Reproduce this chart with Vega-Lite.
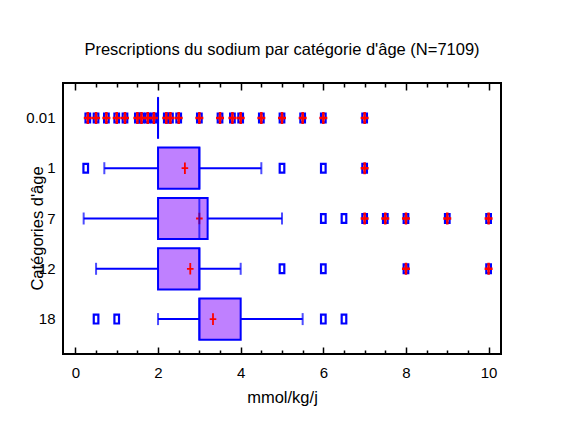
{
  "$schema": "https://vega.github.io/schema/vega-lite/v6.json",
  "width": 438,
  "height": 271,
  "autosize": {"type": "none"},
  "padding": {"left": 63, "top": 83, "right": 82, "bottom": 83},
  "background": "white",
  "title": {
    "text": "Prescriptions du sodium par catégorie d'âge (N=7109)",
    "font": "Liberation Sans",
    "fontSize": 16.5,
    "fontWeight": "normal",
    "color": "#000",
    "anchor": "middle",
    "baseline": "alphabetic",
    "offset": 11
  },
  "config": {
    "view": {"stroke": "#000", "strokeWidth": 2},
    "axis": {
      "labelFont": "Liberation Sans",
      "titleFont": "Liberation Sans",
      "labelFontSize": 15,
      "titleFontSize": 16.5,
      "titleFontWeight": "normal",
      "labelColor": "#000",
      "titleColor": "#000",
      "tickColor": "#000",
      "tickWidth": 1.5,
      "grid": false,
      "domain": false
    }
  },
  "datasets": {
    "summary": [
      {"age": "0.01", "low": 2, "q1": 2, "median": 2, "q3": 2, "high": 2, "mean": null},
      {"age": "1", "low": 0.7, "q1": 2, "median": 3, "q3": 3, "high": 4.5, "mean": 2.65},
      {"age": "7", "low": 0.2, "q1": 2, "median": 3, "q3": 3.2, "high": 5, "mean": 3.0},
      {"age": "12", "low": 0.5, "q1": 2, "median": 3, "q3": 3, "high": 4, "mean": 2.78},
      {"age": "18", "low": 2, "q1": 3, "median": 3, "q3": 4, "high": 5.5, "mean": 3.33}
    ],
    "outliers": [
      {"age": "0.01", "value": 0.3, "type": "far"},
      {"age": "0.01", "value": 0.5, "type": "far"},
      {"age": "0.01", "value": 0.75, "type": "far"},
      {"age": "0.01", "value": 1.0, "type": "far"},
      {"age": "0.01", "value": 1.2, "type": "far"},
      {"age": "0.01", "value": 1.5, "type": "far"},
      {"age": "0.01", "value": 1.6, "type": "far"},
      {"age": "0.01", "value": 1.75, "type": "far"},
      {"age": "0.01", "value": 1.9, "type": "far"},
      {"age": "0.01", "value": 2.2, "type": "far"},
      {"age": "0.01", "value": 2.3, "type": "far"},
      {"age": "0.01", "value": 2.5, "type": "far"},
      {"age": "0.01", "value": 3.0, "type": "far"},
      {"age": "0.01", "value": 3.5, "type": "far"},
      {"age": "0.01", "value": 3.8, "type": "far"},
      {"age": "0.01", "value": 4.0, "type": "far"},
      {"age": "0.01", "value": 4.5, "type": "far"},
      {"age": "0.01", "value": 5.0, "type": "far"},
      {"age": "0.01", "value": 5.5, "type": "far"},
      {"age": "0.01", "value": 6.0, "type": "far"},
      {"age": "0.01", "value": 7.0, "type": "far"},
      {"age": "1", "value": 0.25, "type": "outside"},
      {"age": "1", "value": 5.0, "type": "outside"},
      {"age": "1", "value": 6.0, "type": "outside"},
      {"age": "1", "value": 7.0, "type": "far"},
      {"age": "7", "value": 6.0, "type": "outside"},
      {"age": "7", "value": 6.5, "type": "outside"},
      {"age": "7", "value": 7.0, "type": "far"},
      {"age": "7", "value": 7.5, "type": "far"},
      {"age": "7", "value": 8.0, "type": "far"},
      {"age": "7", "value": 9.0, "type": "far"},
      {"age": "7", "value": 10.0, "type": "far"},
      {"age": "12", "value": 5.0, "type": "outside"},
      {"age": "12", "value": 6.0, "type": "outside"},
      {"age": "12", "value": 8.0, "type": "far"},
      {"age": "12", "value": 10.0, "type": "far"},
      {"age": "18", "value": 0.5, "type": "outside"},
      {"age": "18", "value": 1.0, "type": "outside"},
      {"age": "18", "value": 6.0, "type": "outside"},
      {"age": "18", "value": 6.5, "type": "outside"}
    ]
  },
  "layer": [
    {
      "data": {"name": "summary"},
      "mark": {"type": "rule", "color": "#0000ff", "strokeWidth": 2},
      "encoding": {
        "y": {
          "field": "age", "type": "nominal", "sort": ["0.01", "1", "7", "12", "18"],
          "scale": {"paddingInner": 0.18, "paddingOuter": 0.284},
          "axis": {
            "ticks": false, "labelPadding": 8, "title": "Catégories d'âge",
            "titleAngle": -90, "titleX": -21, "titleY": 145,
            "titleAlign": "center", "titleBaseline": "alphabetic"
          }
        },
        "x": {
          "field": "low", "type": "quantitative",
          "scale": {"domain": [-0.3, 10.3], "nice": false, "zero": false},
          "axis": {
            "orient": "bottom", "values": [0, 2, 4, 6, 8, 10],
            "offset": -7, "tickSize": 7,
            "labelPadding": 23, "labelBaseline": "alphabetic", "title": "mmol/kg/j",
            "titleY": 55, "titleBaseline": "alphabetic"
          }
        },
        "x2": {"field": "high"}
      }
    },
    {
      "data": {"name": "summary"},
      "mark": {"type": "tick", "color": "#0000ff", "thickness": 2, "size": 12},
      "encoding": {
        "y": {"field": "age", "type": "nominal", "sort": ["0.01", "1", "7", "12", "18"]},
        "x": {
          "field": "low", "type": "quantitative",
          "scale": {"domain": [-0.3, 10.3], "nice": false, "zero": false},
          "axis": {
            "orient": "bottom", "offset": -4, "tickSize": 4, "labels": false, "title": null,
            "values": [0.5, 1, 1.5, 2.5, 3, 3.5, 4.5, 5, 5.5, 6.5, 7, 7.5, 8.5, 9, 9.5]
          }
        }
      }
    },
    {
      "data": {"name": "summary"},
      "mark": {"type": "tick", "color": "#0000ff", "thickness": 2, "size": 12},
      "encoding": {
        "y": {"field": "age", "type": "nominal", "sort": ["0.01", "1", "7", "12", "18"]},
        "x": {
          "field": "high", "type": "quantitative",
          "scale": {"domain": [-0.3, 10.3], "nice": false, "zero": false},
          "axis": {
            "orient": "top", "values": [0, 2, 4, 6, 8, 10], "offset": -7, "tickSize": 7,
            "labels": false, "title": null
          }
        }
      }
    },
    {
      "data": {"name": "summary"},
      "mark": {"type": "bar", "fill": "#bf80ff", "stroke": "#0000ff", "strokeWidth": 2},
      "encoding": {
        "y": {"field": "age", "type": "nominal", "sort": ["0.01", "1", "7", "12", "18"]},
        "x": {
          "field": "q1", "type": "quantitative",
          "scale": {"domain": [-0.3, 10.3], "nice": false, "zero": false},
          "axis": {
            "orient": "top", "offset": -4, "tickSize": 4, "labels": false, "title": null,
            "values": [0.5, 1, 1.5, 2.5, 3, 3.5, 4.5, 5, 5.5, 6.5, 7, 7.5, 8.5, 9, 9.5]
          }
        },
        "x2": {"field": "q3"}
      }
    },
    {
      "data": {"name": "summary"},
      "mark": {
        "type": "point", "shape": "M-0.33,0H0.33M0,-0.58V0.58", "size": 400,
        "filled": false, "stroke": "#ff0000", "strokeWidth": 1.8, "opacity": 1
      },
      "encoding": {
        "y": {"field": "age", "type": "nominal", "sort": ["0.01", "1", "7", "12", "18"]},
        "x": {
          "field": "mean", "type": "quantitative",
          "scale": {"domain": [-0.3, 10.3], "nice": false, "zero": false},
          "axis": null
        }
      }
    },
    {
      "data": {"name": "summary"},
      "mark": {"type": "tick", "color": "#0000ff", "thickness": 2, "size": 42},
      "encoding": {
        "y": {"field": "age", "type": "nominal", "sort": ["0.01", "1", "7", "12", "18"]},
        "x": {
          "field": "median", "type": "quantitative",
          "scale": {"domain": [-0.3, 10.3], "nice": false, "zero": false},
          "axis": null
        }
      }
    },
    {
      "data": {"name": "outliers"},
      "mark": {
        "type": "point", "shape": "M-0.23,-0.44H0.23V0.44H-0.23Z", "size": 400,
        "filled": false, "stroke": "#0000ff", "strokeWidth": 2.2, "opacity": 1
      },
      "encoding": {
        "y": {"field": "age", "type": "nominal", "sort": ["0.01", "1", "7", "12", "18"]},
        "x": {
          "field": "value", "type": "quantitative",
          "scale": {"domain": [-0.3, 10.3], "nice": false, "zero": false},
          "axis": null
        }
      }
    },
    {
      "data": {"name": "outliers"},
      "transform": [{"filter": "datum.type === 'far'"}],
      "mark": {
        "type": "point", "shape": "M-0.4,0H0.4M0,-0.6V0.6", "size": 400,
        "filled": false, "stroke": "#ff0000", "strokeWidth": 2.5, "opacity": 1
      },
      "encoding": {
        "y": {"field": "age", "type": "nominal", "sort": ["0.01", "1", "7", "12", "18"]},
        "x": {
          "field": "value", "type": "quantitative",
          "scale": {"domain": [-0.3, 10.3], "nice": false, "zero": false},
          "axis": null
        }
      }
    }
  ],
  "resolve": {"axis": {"x": "independent"}}
}
